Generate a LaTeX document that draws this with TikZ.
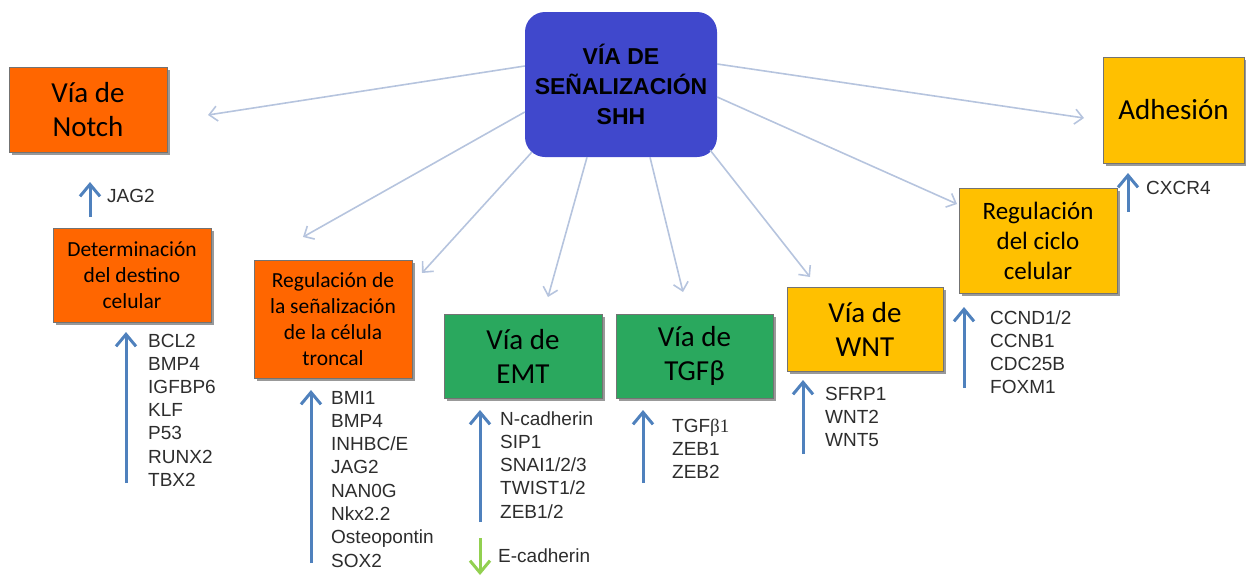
\documentclass[tikz,border=0pt]{standalone}
\usepackage{fontspec}
\setmainfont{Liberation Sans}
\newfontfamily\boxfont{Carlito}
\newfontfamily\grserif{Liberation Serif}
\usetikzlibrary{arrows.meta,shadows,calc}
\definecolor{blueC}{RGB}{64,72,204}
\definecolor{orangeC}{RGB}{255,102,0}
\definecolor{greenC}{RGB}{42,168,94}
\definecolor{yellowC}{RGB}{255,192,0}
\definecolor{linkC}{RGB}{182,196,222}
\definecolor{upC}{RGB}{79,129,189}
\definecolor{downC}{RGB}{146,208,80}
\definecolor{geneC}{RGB}{45,45,45}
\begin{document}
\begin{tikzpicture}[x=1pt,y=-1pt,
  box/.style={draw=black!55, line width=0.8pt, inner sep=0pt, align=center, text=black,
    drop shadow={shadow xshift=2.5pt, shadow yshift=-2.5pt, fill=black, opacity=0.4}},
  orangebox/.style={box, fill=orangeC},
  greenbox/.style={box, fill=greenC},
  yellowbox/.style={box, fill=yellowC},
  bigtxt/.style={font=\boxfont\fontsize{29}{34}\selectfont},
  midtxt/.style={font=\boxfont\fontsize{25}{30}\selectfont},
  smalltxt/.style={font=\boxfont\fontsize{21.5}{26}\selectfont},
  centerbox/.style={fill=blueC, rounded corners=20pt, inner sep=0pt, align=center,
    font=\bfseries\fontsize{23}{30}\selectfont, text=black},
  link/.style={draw=linkC, line width=1.6pt, -{Straight Barb[length=8pt,width=15pt]}},
  uparrow/.style={draw=upC, line width=3pt, -{Straight Barb[length=12pt,width=20pt]}},
  downarrow/.style={draw=downC, line width=3pt, -{Straight Barb[length=12pt,width=20pt]}},
  gene/.style={anchor=base west, inner sep=0pt, text=geneC, font=\fontsize{19}{23}\selectfont}
]
\useasboundingbox (0,0) rectangle (1246,576);

% central node
\node[centerbox, minimum width=192pt, minimum height=145pt] (c) at (621,84.5)
  {VÍA DE\\SEÑALIZACIÓN\\SHH};

% boxes
\node[orangebox, bigtxt, minimum width=158pt, minimum height=85pt] (notch) at (88,109.5) {Vía de\\Notch};
\node[orangebox, smalltxt, minimum width=158pt, minimum height=94pt] (det) at (132,275) {Determinación\\del destino\\celular};
\node[orangebox, smalltxt, minimum width=158pt, minimum height=118pt] (stem) at (333,319) {Regulación de\\la señalización\\de la célula\\troncal};
\node[greenbox, bigtxt, minimum width=158pt, minimum height=84pt] (emt) at (523,356) {Vía de\\EMT};
\node[greenbox, bigtxt, minimum width=157pt, minimum height=84pt] (tgf) at (694.5,356) {Vía de\\TGFβ};
\node[yellowbox, bigtxt, minimum width=156pt, minimum height=84pt] (wnt) at (865,329) {Vía de\\WNT};
\node[yellowbox, midtxt, minimum width=158pt, minimum height=105pt] (ciclo) at (1038,240.5) {Regulación\\del ciclo\\celular};
\node[yellowbox, bigtxt, minimum width=141pt, minimum height=106pt] (adh) at (1173.5,110) {Adhesión};

% connectors from the central node
\coordinate (t1) at (208,115);
\coordinate (t2) at (303,237);
\coordinate (t3) at (422,273);
\coordinate (t4) at (548,297);
\coordinate (t5) at (683,292);
\coordinate (t6) at (810,277);
\coordinate (t7) at (957,204);
\coordinate (t8) at (1084,118);
\draw[link] ($(c.west)+(0,-18.5)$) -- (t1);
\draw[link] ($(c.west)+(0,27.5)$) -- (t2);
\draw[link] ($(c.south west)+(7,-5)$) -- (t3);
\draw[link] ($(c.south)+(-34,0)$) -- (t4);
\draw[link] ($(c.south)+(29,0)$) -- (t5);
\draw[link] ($(c.south east)+(-7,-7)$) -- (t6);
\draw[link] ($(c.east)+(0,12.5)$) -- (t7);
\draw[link] ($(c.east)+(0,-20.5)$) -- (t8);

% JAG2 up arrow
\coordinate (j0) at (90,217);
\coordinate (j1) at (90,182);
\draw[uparrow] (j0) -- (j1);
\node[gene] (jag) at (107,202) {JAG2};

% Determinacion list
\coordinate (d0) at (126,483);
\coordinate (d1) at (126,332);
\draw[uparrow] (d0) -- (d1);
\foreach \t [count=\i from 0] in {BCL2,BMP4,IGFBP6,KLF,P53,RUNX2,TBX2}
  \node[gene] (gd\i) at (148,{347+23.2*\i}) {\t};

% Stem list
\coordinate (s0) at (311,563);
\coordinate (s1) at (311,390);
\draw[uparrow] (s0) -- (s1);
\foreach \t [count=\i from 0] in {BMI1,BMP4,INHBC/E,JAG2,NAN0G,Nkx2.2,Osteopontin,SOX2}
  \node[gene] (gs\i) at (331,{404+23.3*\i}) {\t};

% EMT list
\coordinate (e0) at (480,522);
\coordinate (e1) at (480,410);
\draw[uparrow] (e0) -- (e1);
\foreach \t [count=\i from 0] in {N-cadherin,SIP1,SNAI1/2/3,TWIST1/2,ZEB1/2}
  \node[gene] (ge\i) at (500,{425+23.3*\i}) {\t};
\coordinate (f0) at (480,538);
\coordinate (f1) at (480,575);
\draw[downarrow] (f0) -- (f1);
\node[gene] (ecad) at (498,562) {E-cadherin};

% TGF list
\coordinate (g0) at (643,483);
\coordinate (g1) at (643,410);
\draw[uparrow] (g0) -- (g1);
\node[gene] (gt0) at (672,432) {TGF{\grserif β1}};
\node[gene] (gt1) at (672,455.3) {ZEB1};
\node[gene] (gt2) at (672,478.6) {ZEB2};

% WNT list
\coordinate (w0) at (803,454);
\coordinate (w1) at (803,380);
\draw[uparrow] (w0) -- (w1);
\foreach \t [count=\i from 0] in {SFRP1,WNT2,WNT5}
  \node[gene] (gw\i) at (825,{400+23.3*\i}) {\t};

% Ciclo list
\coordinate (k0) at (964,388);
\coordinate (k1) at (964,307);
\draw[uparrow] (k0) -- (k1);
\foreach \t [count=\i from 0] in {CCND1/2,CCNB1,CDC25B,FOXM1}
  \node[gene] (gk\i) at (990,{324+23.3*\i}) {\t};

% CXCR4
\coordinate (x0) at (1128,212);
\coordinate (x1) at (1128,173);
\draw[uparrow] (x0) -- (x1);
\node[gene] (cx) at (1146,194) {CXCR4};
\end{tikzpicture}
\end{document}
